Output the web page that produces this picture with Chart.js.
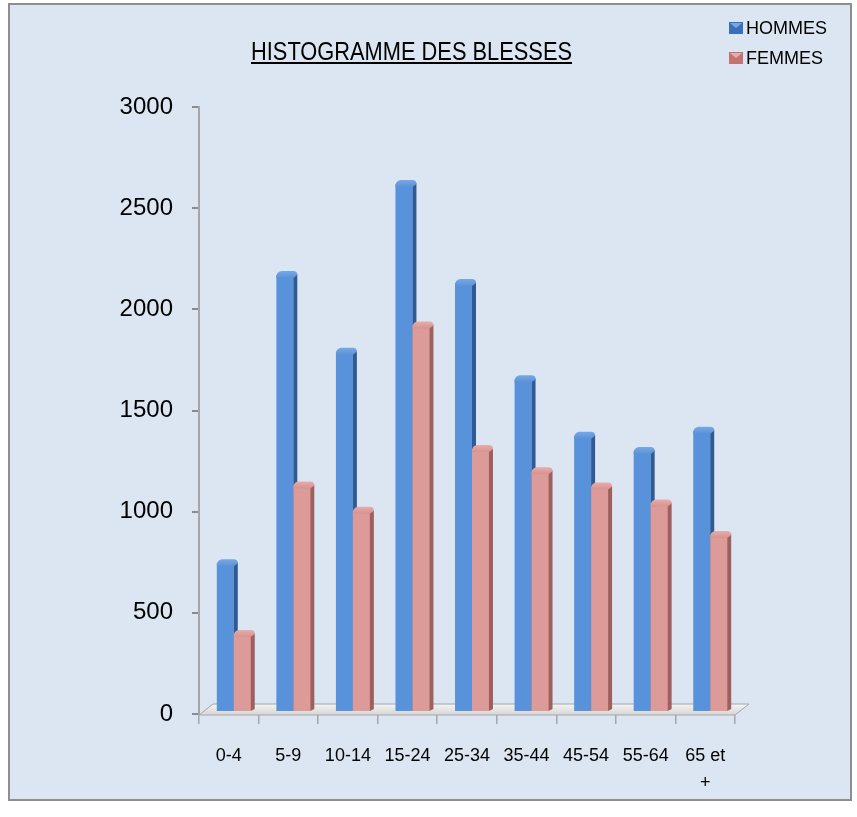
<!DOCTYPE html>
<html>
<head>
<meta charset="utf-8">
<script src="https://cdn.jsdelivr.net/npm/chart.js@4"></script>
<style>
html,body{margin:0;padding:0;background:#fff;}
#wrap{position:absolute;left:0;top:0;width:857px;height:817px;}
</style>
</head>
<body>
<div id="wrap"><canvas id="c" width="857" height="817"></canvas></div>
<script>
// ---- data ----
const categories = ['0-4', '5-9', '10-14', '15-24', '25-34', '35-44', '45-54', '55-64', ['65 et', '+']];
const hommes = [735, 2160, 1780, 2610, 2120, 1645, 1365, 1290, 1390];
const femmes = [385, 1120, 995, 1910, 1300, 1190, 1115, 1030, 875];
const seriesNames = ['HOMMES', 'FEMMES'];
const titleText = 'HISTOGRAMME DES BLESSES';
const yTicks = { min: 0, max: 3000, step: 500 };

const palette = {
  blue:  { left: '#3b70b8', mid: '#5892da', right: '#4a82cc', side: '#2f5b95', cap: '#5a92d9', capHi: '#78a8e4' },
  pink:  { left: '#c27472', mid: '#dc9a98', right: '#d08c8a', side: '#9e5f5d', cap: '#d59290', capHi: '#e8adab' }
};

function frontGradient(ctx, pal) {
  const chart = ctx.chart;
  const el = ctx.element;
  if (!el || !chart.chartArea) return pal.mid;
  const p = el.getProps(['x', 'width'], true);
  if (!isFinite(p.x) || !isFinite(p.width)) return pal.mid;
  const g = chart.ctx.createLinearGradient(p.x - p.width / 2, 0, p.x + p.width / 2, 0);
  g.addColorStop(0, pal.left);
  g.addColorStop(0.45, pal.mid);
  g.addColorStop(1, pal.right);
  return g;
}

const SHIFT_X = 5, SHIFT_Y = -2, SIDE = 4;

function drawSideAndCap(ctx, el, pal) {
  const p = el.getProps(['x', 'y', 'base', 'width'], true);
  const L = p.x - p.width / 2, R = p.x + p.width / 2, T = p.y, B = p.base;
  ctx.fillStyle = pal.side;
  ctx.beginPath();
  ctx.moveTo(R, T + 1);
  ctx.lineTo(R + SIDE, T - 1);
  ctx.lineTo(R + SIDE, B - 2);
  ctx.lineTo(R, B);
  ctx.closePath();
  ctx.fill();
  const cg = ctx.createLinearGradient(0, T - 4, 0, T + 3);
  cg.addColorStop(0, pal.capHi);
  cg.addColorStop(1, pal.cap);
  ctx.fillStyle = cg;
  ctx.beginPath();
  ctx.moveTo(L, T + 2);
  ctx.quadraticCurveTo(L, T - 3, L + 5, T - 4);
  ctx.lineTo(R + SIDE - 4, T - 4);
  ctx.quadraticCurveTo(R + SIDE, T - 4, R + SIDE, T);
  ctx.lineTo(R, T + 3);
  ctx.lineTo(L, T + 3);
  ctx.closePath();
  ctx.fill();
}

const decor = {
  id: 'decor',
  beforeDraw(chart) {
    const ctx = chart.ctx;
    ctx.save();
    ctx.fillStyle = '#ffffff';
    ctx.fillRect(0, 0, chart.width, chart.height);
    ctx.fillStyle = '#dce6f2';
    ctx.fillRect(9, 4, 842, 796);
    ctx.strokeStyle = '#8e8e8e';
    ctx.lineWidth = 2;
    ctx.strokeRect(9, 4, 842, 796);
    ctx.restore();
  },
  beforeDatasetsDraw(chart) {
    const ctx = chart.ctx;
    const a = chart.chartArea;
    ctx.save();
    const fy = a.bottom + 1, d = 14, dy = 11;
    const g = ctx.createLinearGradient(0, fy - dy, 0, fy);
    g.addColorStop(0, '#f4f4f4');
    g.addColorStop(1, '#d6d6d6');
    ctx.beginPath();
    ctx.moveTo(a.left, fy);
    ctx.lineTo(a.right, fy);
    ctx.lineTo(a.right + d, fy - dy);
    ctx.lineTo(a.left + d, fy - dy);
    ctx.closePath();
    ctx.fillStyle = g;
    ctx.fill();
    ctx.strokeStyle = '#a6a6a6';
    ctx.lineWidth = 1;
    ctx.stroke();
    ctx.restore();
    ctx.save();
    ctx.translate(SHIFT_X, SHIFT_Y);
  },
  afterDatasetsDraw(chart) {
    const ctx = chart.ctx;
    const m0 = chart.getDatasetMeta(0), m1 = chart.getDatasetMeta(1);
    m0.data.forEach(el => drawSideAndCap(ctx, el, palette.blue));
    m1.data.forEach(el => { el.draw(ctx); drawSideAndCap(ctx, el, palette.pink); });
    ctx.restore();
  },
  afterDraw(chart) {
    const ctx = chart.ctx;
    ctx.save();
    // title with underline (condensed to match reference width)
    ctx.font = '25px "Liberation Sans", sans-serif';
    ctx.fillStyle = '#000';
    ctx.textBaseline = 'alphabetic';
    ctx.textAlign = 'left';
    const tw = ctx.measureText(titleText).width;
    const target = 321, sx = target / tw, tx = 251;
    ctx.save();
    ctx.translate(tx, 60);
    ctx.scale(sx, 1);
    ctx.fillText(titleText, 0, 0);
    ctx.restore();
    ctx.fillRect(tx, 62, target, 2);
    // legend
    const items = chart.data.datasets.map((ds, i) => ({ label: ds.label, pal: i === 0 ? palette.blue : palette.pink }));
    ctx.font = '18px "Liberation Sans", sans-serif';
    ctx.textBaseline = 'middle';
    items.forEach((it, i) => {
      const cy = 28 + i * 30;
      const x0 = 729, y0 = cy - 6, w = 14, h = 12;
      ctx.fillStyle = it.pal.left;
      ctx.fillRect(x0, y0, w, h);
      ctx.fillStyle = it.pal.capHi;
      ctx.beginPath();
      ctx.moveTo(x0 + 1, y0 + 1);
      ctx.lineTo(x0 + w - 1, y0 + 1);
      ctx.lineTo(x0 + w / 2, y0 + h / 2);
      ctx.closePath();
      ctx.fill();
      ctx.fillStyle = '#000';
      ctx.fillText(it.label, 746, cy + 1);
    });
    ctx.restore();
  }
};

new Chart(document.getElementById('c'), {
  type: 'bar',
  data: {
    labels: categories,
    datasets: [
      { label: seriesNames[0], data: hommes,
        backgroundColor: c => frontGradient(c, palette.blue), borderWidth: 0,
        categoryPercentage: 0.57, barPercentage: 1.0 },
      { label: seriesNames[1], data: femmes,
        backgroundColor: c => frontGradient(c, palette.pink), borderWidth: 0,
        categoryPercentage: 0.57, barPercentage: 1.0 }
    ]
  },
  options: {
    responsive: false,
    animation: false,
    devicePixelRatio: 1,
    layout: { padding: { left: 0, right: 122, top: 107, bottom: 23 } },
    plugins: { legend: { display: false }, title: { display: false }, tooltip: { enabled: false } },
    scales: {
      x: {
        afterFit: s => { s.height = 80; },
        border: { display: false },
        grid: { drawOnChartArea: false, drawTicks: true, tickLength: 10, color: '#a6a6a6', lineWidth: 1.5 },
        ticks: {
          color: '#000', maxRotation: 0, autoSkip: false, padding: 19,
          font: { family: '"Liberation Sans", sans-serif', size: 18, lineHeight: 1.5 }
        }
      },
      y: {
        min: yTicks.min, max: yTicks.max,
        afterFit: s => { s.width = 199; },
        border: { display: true, color: '#a6a6a6', width: 2 },
        grid: { drawOnChartArea: false, drawTicks: true, tickLength: 7, color: '#8c8c8c', lineWidth: 2 },
        ticks: {
          stepSize: yTicks.step, color: '#000', padding: 19,
          callback: v => String(v),
          font: { family: '"Liberation Sans", sans-serif', size: 24 }
        }
      }
    }
  },
  plugins: [decor]
});
</script>
</body>
</html>
